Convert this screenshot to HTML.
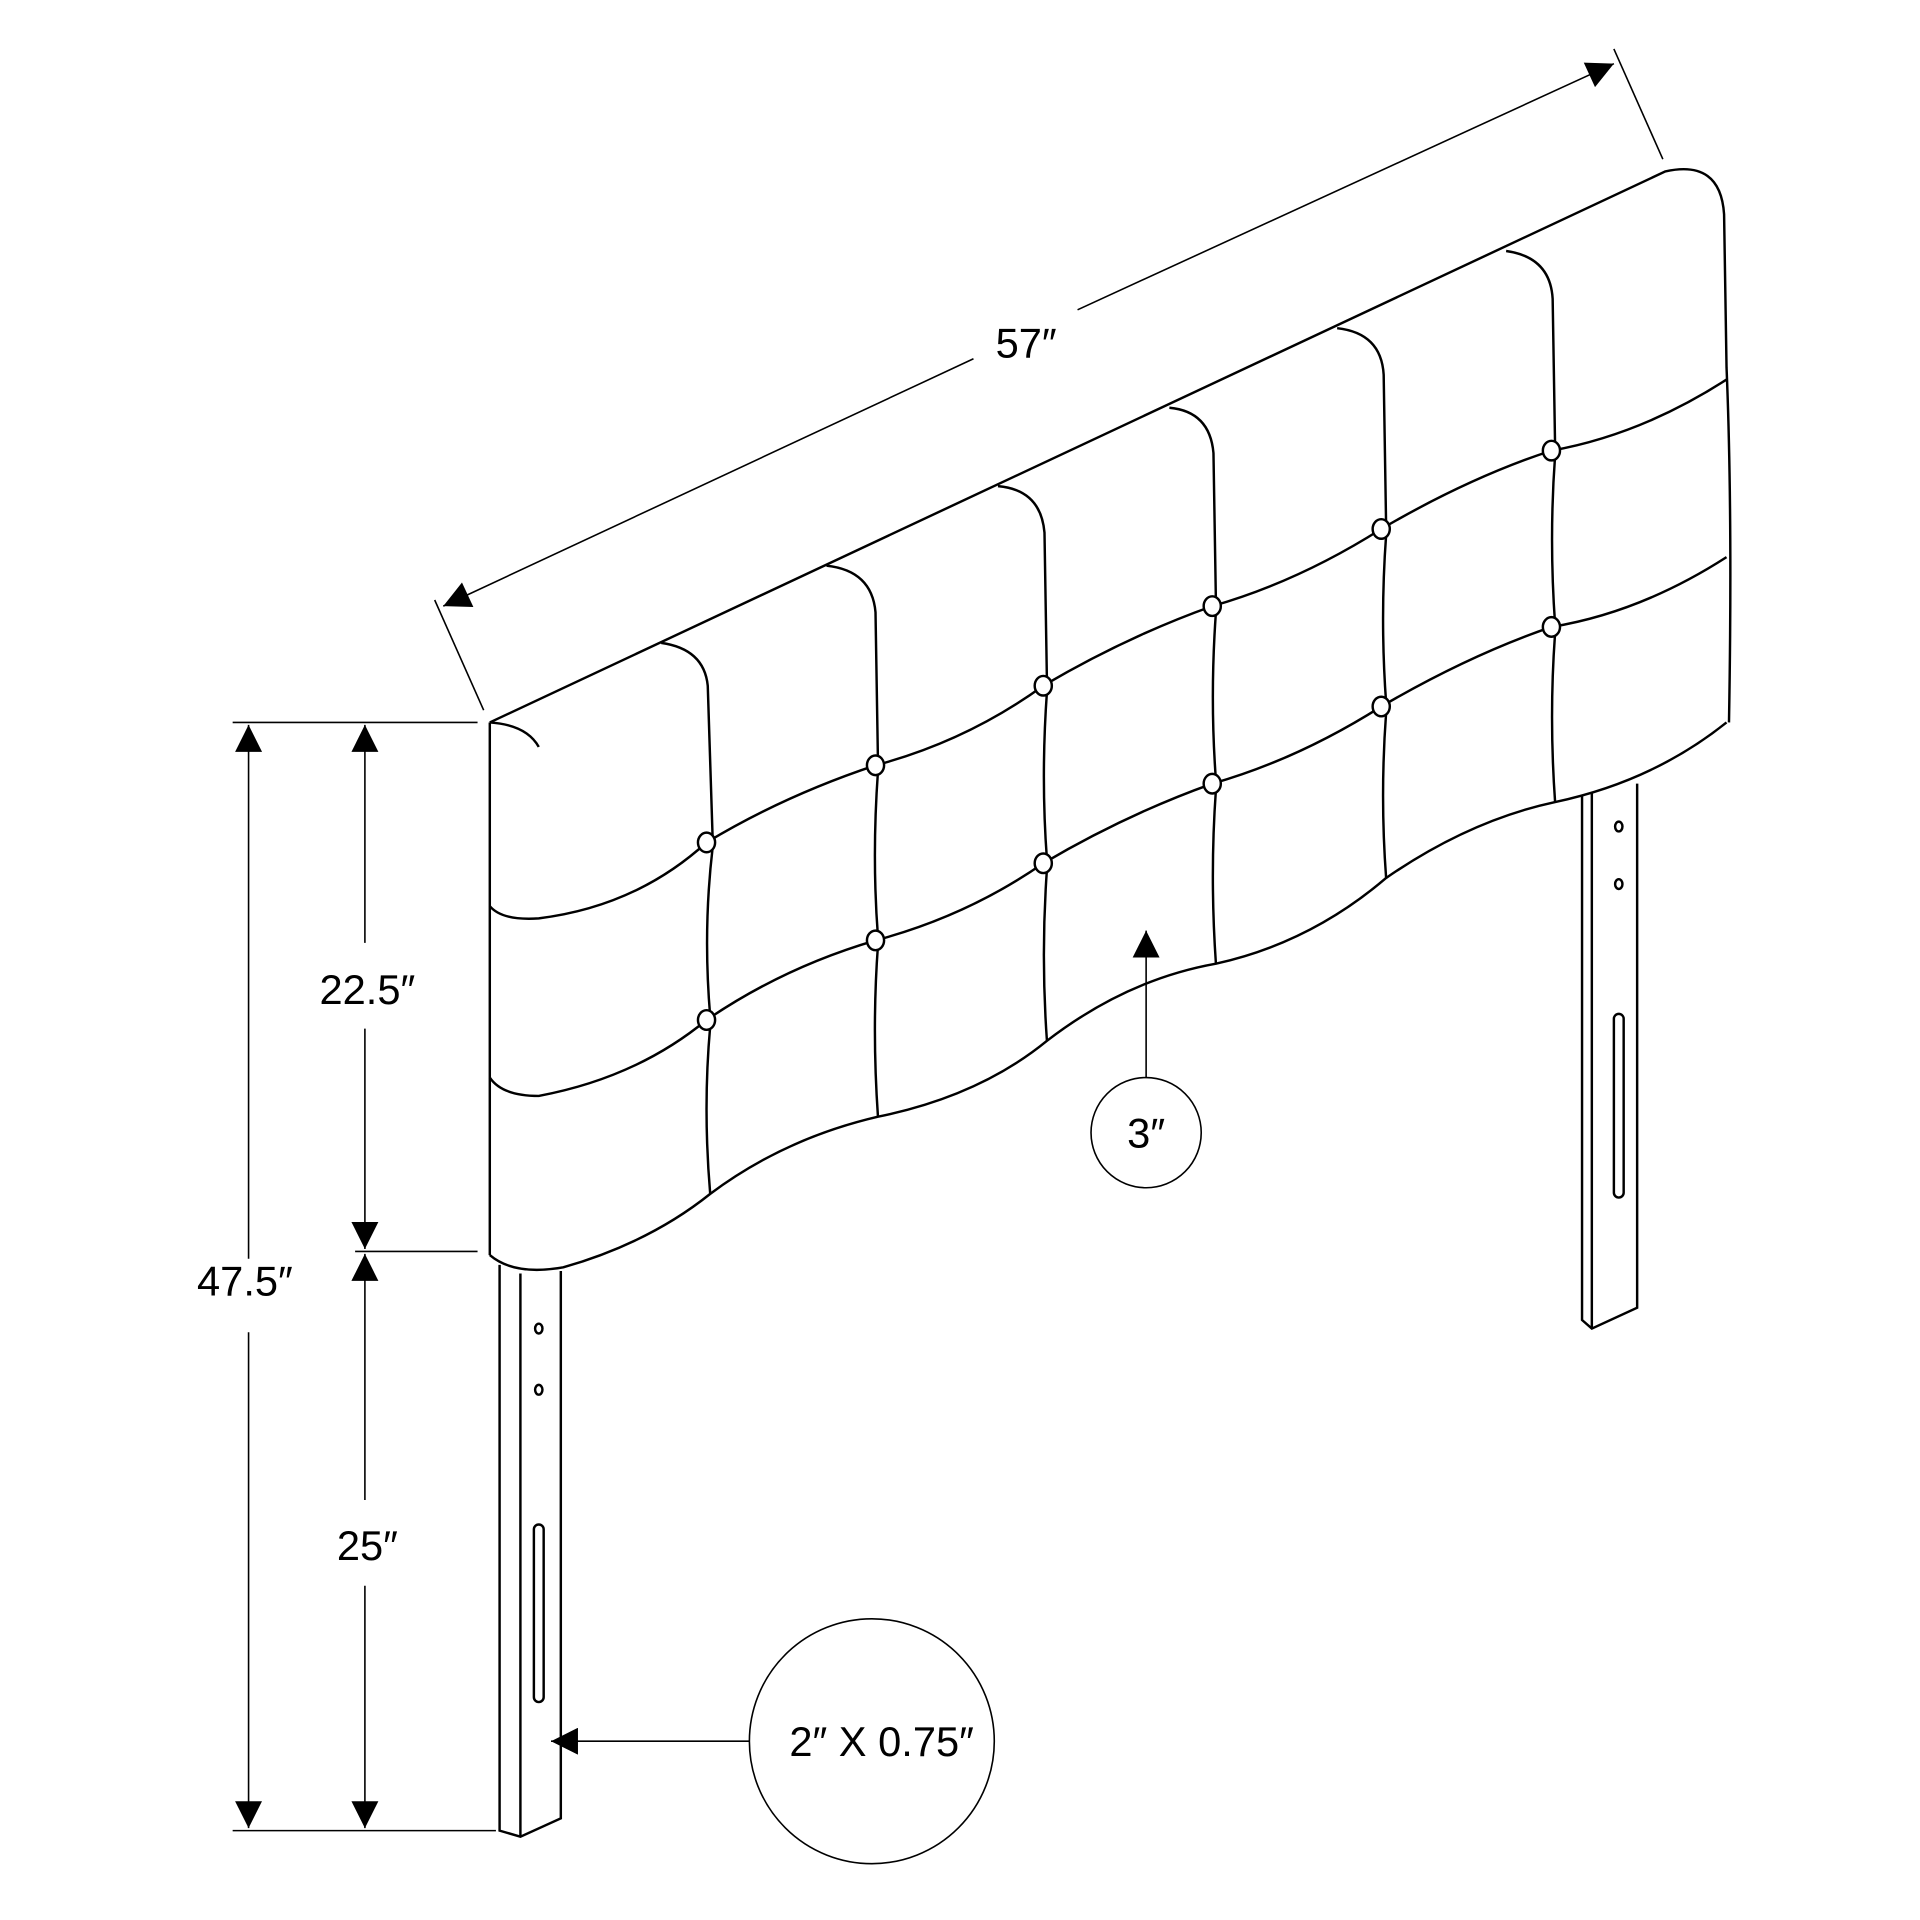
<!DOCTYPE html>
<html><head><style>html,body{margin:0;padding:0;background:#fff}svg{display:block}</style></head>
<body>
<svg width="1920" height="1920" viewBox="0 0 1568 1568" xmlns="http://www.w3.org/2000/svg" font-family="Liberation Sans, sans-serif">
<defs>
<marker id="b" viewBox="0 0 10 10" refX="10" refY="5" markerWidth="26" markerHeight="22" orient="auto-start-reverse" markerUnits="userSpaceOnUse"><path d="M0,0 L10,5 L0,10z" fill="#000"/></marker></defs>
<g fill="none" stroke="#000" stroke-width="2">
<path d="M400,590 L1360,140 Q1405,130 1408,175 L1410,300 Q1415,420 1412,590"/>
<path d="M400,590 Q430,592 440,610"/>
<path d="M400,590 L400,1025"/>
<path d="M540,525 Q575,530 578,560 L582,685"/>
<path d="M675,462 Q712,466 715,500 L717,622"/>
<path d="M815,397 Q850,400 853,435 L855,557"/>
<path d="M955,333 Q988,336 991,370 L993,492"/>
<path d="M1092,268 Q1128,272 1130,306 L1132,430"/>
<path d="M1230,205 Q1266,210 1268,244 L1270,365"/>
<path d="M582,692 Q574,760 580,830"/><path d="M717,630 Q712,700 717,765"/><path d="M855,565 Q850,635 855,702"/><path d="M993,500 Q988,570 993,637"/><path d="M1132,437 Q1127,505 1132,574"/><path d="M1270,372 Q1265,440 1270,510"/>
<path d="M580,838 Q574,905 580,975"/><path d="M717,772 Q712,840 717,912"/><path d="M855,710 Q850,780 855,850"/><path d="M993,645 Q988,715 993,787"/><path d="M1132,582 Q1127,650 1132,717"/><path d="M1270,517 Q1265,585 1270,655"/>
<path d="M400,740 Q410,752 440,750 Q520,740 577,688 Q640,650 715,625 Q790,605 852,560 Q920,520 990,495 Q1060,475 1128,432 Q1200,390 1267,368 Q1340,355 1410,310"/>
<path d="M400,880 Q410,895 440,895 Q520,880 577,833 Q640,790 715,768 Q790,748 852,705 Q920,665 990,640 Q1060,620 1128,577 Q1200,535 1267,512 Q1340,500 1410,455"/>
<path d="M400,1025 Q420,1042 460,1035 Q530,1015 580,975 Q640,930 717,912 Q800,895 855,850 Q920,800 993,787 Q1070,770 1132,717 Q1200,670 1270,655 Q1350,638 1410,590"/>
<path d="M408,1033 L408,1495 L425,1500 L458,1485 L458,1038"/><path d="M425,1040 L425,1500"/>
<ellipse cx="440" cy="1085" rx="3" ry="4"/><ellipse cx="440" cy="1135" rx="3" ry="4"/><rect x="436" y="1245" width="8" height="145" rx="4"/>
<path d="M1292,650 L1292,1078 L1300,1085 L1337,1068 L1337,640"/><path d="M1300,648 L1300,1085"/>
<ellipse cx="1322" cy="675" rx="3" ry="4"/><ellipse cx="1322" cy="722" rx="3" ry="4"/><rect x="1318" y="828" width="8" height="150" rx="4"/>
</g>
<g fill="#fff" stroke="#000" stroke-width="2">
<ellipse cx="577" cy="688" rx="7" ry="8"/><ellipse cx="715" cy="625" rx="7" ry="8"/><ellipse cx="852" cy="560" rx="7" ry="8"/><ellipse cx="990" cy="495" rx="7" ry="8"/><ellipse cx="1128" cy="432" rx="7" ry="8"/><ellipse cx="1267" cy="368" rx="7" ry="8"/>
<ellipse cx="577" cy="833" rx="7" ry="8"/><ellipse cx="715" cy="768" rx="7" ry="8"/><ellipse cx="852" cy="705" rx="7" ry="8"/><ellipse cx="990" cy="640" rx="7" ry="8"/><ellipse cx="1128" cy="577" rx="7" ry="8"/><ellipse cx="1267" cy="512" rx="7" ry="8"/>
</g>
<g fill="none" stroke="#000" stroke-width="1.3">
<path d="M355,490 L395,580"/><path d="M1318,40 L1358,130"/>
<path d="M362,495 L795,293" marker-start="url(#b)"/><path d="M880,253 L1318,52" marker-end="url(#b)"/>
<path d="M190,590 L390,590"/><path d="M290,1022 L390,1022"/><path d="M190,1495 L405,1495"/>
<path d="M203,592 L203,1028" marker-start="url(#b)"/><path d="M203,1088 L203,1493" marker-end="url(#b)"/>
<path d="M298,592 L298,770" marker-start="url(#b)"/><path d="M298,840 L298,1020" marker-end="url(#b)"/>
<path d="M298,1024 L298,1225" marker-start="url(#b)"/><path d="M298,1295 L298,1493" marker-end="url(#b)"/>
<path d="M936,880 L936,760" marker-end="url(#b)"/>
<path d="M612,1422 L450,1422" marker-end="url(#b)"/>
<circle cx="936" cy="925" r="45"/><circle cx="712" cy="1422" r="100"/>
</g>
<g font-size="34" fill="#000" text-anchor="middle">
<text x="838" y="292">57″</text>
<text x="200" y="1058">47.5″</text>
<text x="300" y="820">22.5″</text>
<text x="300" y="1274">25″</text>
<text x="936" y="937">3″</text>
<text x="720" y="1434">2″ X 0.75″</text>
</g>
</svg>
</body></html>
